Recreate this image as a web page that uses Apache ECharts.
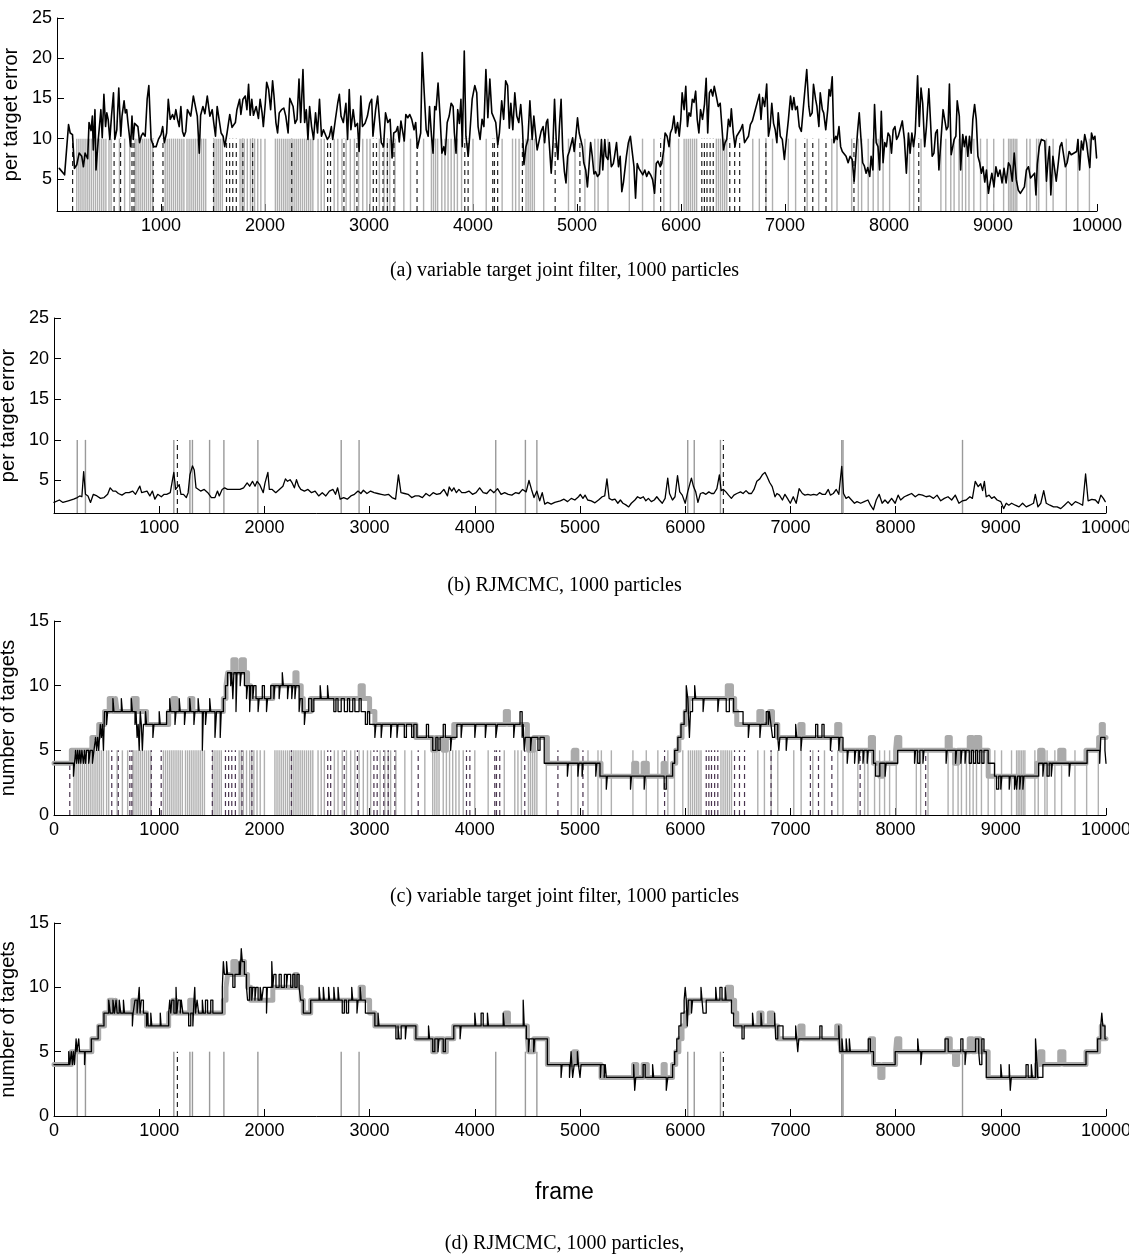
<!DOCTYPE html>
<html><head><meta charset="utf-8">
<script src="https://cdn.jsdelivr.net/npm/echarts@6/dist/echarts.min.js"></script>
<style>html,body{margin:0;padding:0;background:#fff}#c{width:1129px;height:1257px}</style>
</head><body><div id="c"></div>
<script>
// ---------- data ----------
const errTicks = [5, 10, 15, 20, 25];
const countTicks = [0, 5, 10, 15];
const captions = ['(a) variable target joint filter, 1000 particles', '(b) RJMCMC, 1000 particles',
  '(c) variable target joint filter, 1000 particles', '(d) RJMCMC, 1000 particles,'];

// (a) per target error, variable target joint filter  [frame, error]
const errA = [[22,6.3],[73,5.5],[111,11.75],[127,10.7],[149,10.5],[168,6.3],[190,6.75],[213,8.2],[238,7.8],[254,6.5],[270,8.2],[295,7.5],[308,12],[327,11],[340,12.8],[349,8.6],[365,13.6],[375,6.1],[397,9.9],[422,13.6],[435,10.1],[451,15.5],[467,11.5],[479,13.2],[492,12.4],[508,9.9],[524,12.8],[543,15.7],[556,9.9],[575,11.1],[594,16.3],[613,10.3],[625,12.8],[645,14.7],[657,13.2],[670,13.6],[683,11.9],[708,9],[721,12.8],[733,9.9],[746,11.9],[778,11.5],[794,9.5],[810,10.3],[826,10.7],[848,10.3],[867,14.9],[883,16.6],[905,9.9],[930,9],[953,9],[975,9.9],[1000,10.5],[1016,11.5],[1032,9.5],[1054,10.7],[1070,14.9],[1089,12.4],[1111,13],[1127,12.4],[1143,13.6],[1159,12.4],[1175,11.5],[1191,14],[1207,10.9],[1222,10.3],[1238,10.9],[1254,13.6],[1270,13.6],[1286,12.8],[1311,15.3],[1330,15.3],[1349,12.8],[1368,8.2],[1381,12.9],[1403,14],[1422,13.1],[1445,15.3],[1470,12.8],[1492,13.6],[1508,11.9],[1524,10.3],[1540,14],[1559,14],[1578,10.7],[1597,10.3],[1613,9],[1635,10.7],[1661,13],[1683,11.4],[1699,11.6],[1715,12],[1730,13.6],[1756,14.9],[1768,13],[1788,14.9],[1810,15.3],[1826,13.6],[1842,16.75],[1857,12.9],[1873,14.9],[1889,12.9],[1915,14],[1937,12.5],[1953,14.9],[1972,13.2],[1984,11.5],[2003,14.4],[2016,17],[2035,16.1],[2054,13.6],[2073,17.2],[2086,15.4],[2105,12],[2121,10.7],[2137,13.2],[2159,13.6],[2181,13.8],[2200,12.8],[2222,10.7],[2238,15],[2257,14.9],[2270,14],[2289,11.9],[2308,12.4],[2327,17.4],[2343,12],[2365,18.6],[2381,12],[2397,13.6],[2413,9.9],[2429,14],[2448,11.5],[2467,9.9],[2486,13.2],[2505,10.7],[2524,14.9],[2543,10.3],[2562,11.1],[2581,11.1],[2600,9.9],[2619,10.3],[2638,11.5],[2651,9.9],[2677,12.4],[2699,14.4],[2715,15.5],[2731,12.8],[2753,12],[2778,14.4],[2794,9.9],[2810,16.1],[2826,11.1],[2848,13.6],[2867,11.5],[2889,11.9],[2905,8.4],[2921,15.3],[2937,11.5],[2962,11.9],[2985,12.8],[3007,14.4],[3026,14.9],[3038,10.3],[3064,13.6],[3083,15.3],[3118,9.5],[3140,9],[3159,13.2],[3181,12],[3203,12.4],[3222,7.6],[3238,10.7],[3260,10.9],[3276,11.5],[3291,9.6],[3307,12.2],[3323,12],[3339,9.7],[3354,13],[3373,12.6],[3392,13],[3411,12.4],[3433,11.1],[3449,12],[3465,8.8],[3481,9],[3497,10.7],[3512,20.7],[3531,15.7],[3550,11.1],[3569,10.3],[3582,14],[3601,10.3],[3616,8.2],[3632,14],[3645,13.6],[3664,16.9],[3683,12.8],[3701,8.2],[3720,9],[3733,8],[3752,12],[3771,12.8],[3790,14.4],[3809,14],[3821,10.7],[3837,8.2],[3853,13.6],[3869,11.9],[3884,14.9],[3897,9],[3916,20.9],[3932,10.3],[3954,7.8],[3970,10.7],[3992,14.9],[4017,16.6],[4036,15.7],[4049,11.5],[4068,9.9],[4087,12.4],[4105,11.5],[4124,18.6],[4143,12.6],[4162,17.4],[4181,13.2],[4200,13.2],[4219,12],[4238,9.25],[4254,10.7],[4276,14.7],[4295,12.4],[4314,17.2],[4333,16.6],[4349,11.3],[4364,14.4],[4383,11.1],[4402,15.7],[4421,12.8],[4440,12],[4459,14.25],[4475,11.5],[4490,6.75],[4509,9],[4528,9.9],[4547,14.7],[4569,9.9],[4585,12.8],[4601,13],[4617,8.6],[4636,8.8],[4655,10.9],[4674,11.5],[4689,9.5],[4705,12],[4718,12.4],[4737,12.6],[4752,5.7],[4768,9],[4784,14.9],[4800,9.9],[4816,7.4],[4831,11.5],[4847,14.9],[4863,8.5],[4879,5.9],[4894,4.5],[4910,7.8],[4926,8.4],[4942,8.25],[4958,10.1],[4973,8.4],[4989,10.3],[5005,12.6],[5021,10.7],[5036,10.9],[5052,9],[5065,7],[5084,6.1],[5100,4],[5115,6.5],[5131,9.5],[5147,7.8],[5163,5.6],[5178,5.9],[5197,5.3],[5216,5.6],[5235,9.9],[5248,6.1],[5267,9.9],[5279,7.8],[5298,7.4],[5311,9.5],[5330,6.5],[5349,6.9],[5361,7.8],[5380,9.5],[5399,6.5],[5415,7.8],[5431,3.4],[5447,4.6],[5462,4.4],[5475,7.8],[5494,9.5],[5513,10.3],[5532,10.5],[5548,6.5],[5563,2.6],[5579,6.9],[5595,6.3],[5614,6.1],[5633,5.5],[5652,6.1],[5670,5.3],[5689,5.9],[5708,5.5],[5727,4.9],[5746,3.2],[5762,6.9],[5778,7.2],[5800,6.5],[5815,6.9],[5834,8.6],[5847,10.7],[5866,10.3],[5885,9],[5898,10.7],[5916,11.3],[5932,12.8],[5948,10.7],[5967,12],[5983,10.3],[5998,12.4],[6011,15.7],[6030,13.6],[6046,16.5],[6062,11.5],[6077,13.2],[6093,12.8],[6109,14.9],[6125,14.5],[6141,15.9],[6156,12.4],[6172,10.7],[6188,13.6],[6207,12.4],[6226,14.3],[6242,17.5],[6257,10.7],[6273,15.7],[6289,16.1],[6305,15.3],[6320,16.5],[6339,15.3],[6358,14],[6377,14.4],[6393,11.5],[6409,8.6],[6424,9.5],[6440,9.9],[6456,12.4],[6472,11.5],[6484,13.7],[6503,10.7],[6519,9],[6535,10.3],[6554,10.7],[6573,11.1],[6592,11.75],[6611,9.5],[6630,9.9],[6649,10.3],[6667,11.75],[6686,12.2],[6753,15.5],[6769,12.4],[6785,15.1],[6805,14],[6824,16.8],[6841,10.3],[6857,11.5],[6873,14.4],[6890,11.9],[6906,11.1],[6922,9.5],[6935,13.2],[6955,10.3],[6974,9.9],[6994,7.4],[7013,9.9],[7033,12.4],[7053,15.3],[7069,13.6],[7085,15.1],[7101,13.6],[7118,14],[7137,11.5],[7157,10.9],[7176,13.8],[7209,18.6],[7229,14],[7242,12.8],[7261,13.2],[7274,16.75],[7294,14.9],[7307,14],[7326,11.5],[7339,15.7],[7359,13.6],[7372,13.2],[7392,11.1],[7411,13.6],[7424,16.1],[7437,15.3],[7454,17.7],[7470,9.5],[7489,10.3],[7502,9.9],[7519,11.5],[7535,9],[7551,8.4],[7568,8.2],[7587,7.8],[7607,7],[7626,7.8],[7646,7.4],[7665,4.7],[7685,8.6],[7698,10.9],[7714,13.2],[7731,9.9],[7747,7],[7763,6.6],[7780,5.7],[7796,6.4],[7815,5.3],[7828,7.8],[7845,6.1],[7861,14.25],[7877,9.5],[7894,9],[7910,6.1],[7926,13.4],[7943,7],[7959,9.5],[7975,9],[7991,10.7],[8008,10.3],[8024,8.2],[8040,11.1],[8057,11.5],[8073,9.9],[8089,10.3],[8106,11.1],[8128,12.2],[8148,9.9],[8167,5.7],[8187,10.7],[8203,8.2],[8220,10.7],[8236,9],[8252,10.7],[8275,17.8],[8291,11.5],[8308,16.3],[8324,14.4],[8343,9],[8360,11.5],[8383,16.2],[8399,12.2],[8415,7.8],[8432,8.2],[8448,10.7],[8464,11.1],[8480,6.1],[8500,9.9],[8520,13.6],[8536,13.8],[8552,11.1],[8568,11.5],[8581,16.8],[8598,8],[8611,8.2],[8627,9.9],[8643,10.3],[8656,14.7],[8676,12.8],[8689,6.1],[8709,10.5],[8725,9],[8741,10.3],[8758,7.8],[8774,10.3],[8790,8.2],[8806,12.4],[8823,14.25],[8839,12.4],[8855,7.8],[8872,7],[8888,5.7],[8904,6.5],[8921,4.6],[8937,6.1],[8956,3.2],[8969,4.25],[8989,5.7],[9009,4],[9028,6.5],[9048,5.3],[9067,6.1],[9087,4.5],[9106,6.3],[9126,4.5],[9149,7],[9165,6.6],[9185,4.7],[9204,8.2],[9224,4.9],[9243,3.6],[9263,3.2],[9282,3.4],[9302,4],[9321,6.1],[9341,6.5],[9361,5.1],[9380,5.1],[9400,5.7],[9413,3],[9426,6.8],[9445,9],[9465,9.9],[9484,10.1],[9498,9.7],[9514,4.7],[9530,7.4],[9543,9],[9556,3],[9576,7.8],[9589,8],[9608,4.7],[9628,7],[9644,9],[9661,9.5],[9680,9.7],[9696,6.5],[9713,7],[9732,8.4],[9752,8],[9771,7.8],[9784,8.25],[9804,8.4],[9817,9.9],[9833,6.1],[9850,9.7],[9866,8.6],[9882,10.5],[9899,9.5],[9915,7.8],[9931,6.4],[9947,10.7],[9964,9.9],[9980,10.3],[9996,7.6]];

// (b) per target error, RJMCMC  [frame, error]
const errB = [[0,2.3],[51,2.6],[85,2.3],[136,2.5],[187,2.7],[221,2.9],[245,3.1],[265,3.0],[282,6.1],[299,3.3],[323,3.1],[347,2.3],[374,3.3],[408,3.1],[442,2.8],[476,2.9],[510,3.3],[534,4.1],[561,3.7],[585,3.7],[612,3.4],[646,3.2],[680,3.5],[714,3.5],[748,3.7],[775,3.3],[799,3.9],[816,4.3],[833,3.5],[850,3.3],[884,3.7],[911,3.1],[935,3.7],[959,2.7],[986,3.3],[1020,3.0],[1047,3.3],[1071,3.3],[1105,3.5],[1139,6.0],[1156,3.9],[1173,3.7],[1190,4.5],[1207,3.3],[1231,3.3],[1258,2.9],[1275,3.5],[1292,5.7],[1316,6.8],[1333,6.3],[1350,4.1],[1367,3.9],[1394,3.7],[1428,3.9],[1462,3.5],[1496,2.9],[1530,2.9],[1554,3.7],[1571,3.1],[1598,3.9],[1622,4.1],[1649,3.9],[1666,3.7],[1700,3.9],[1734,3.9],[1768,3.9],[1802,4.1],[1836,4.7],[1860,4.3],[1887,4.9],[1911,4.3],[1931,4.9],[1955,4.5],[1972,4.5],[1989,3.5],[2006,4.7],[2033,6.0],[2047,3.9],[2074,3.9],[2108,3.5],[2142,3.9],[2176,4.3],[2200,5.2],[2220,4.9],[2244,5.1],[2264,4.7],[2285,4.1],[2305,5.1],[2326,4.3],[2346,3.9],[2380,3.7],[2414,3.9],[2448,3.5],[2482,3.7],[2516,3.1],[2550,3.5],[2584,3.1],[2618,3.7],[2652,3.9],[2676,3.3],[2696,4.1],[2720,2.7],[2754,2.9],[2788,2.7],[2822,3.1],[2856,3.3],[2890,3.7],[2917,3.4],[2941,3.8],[2975,3.4],[3009,3.7],[3043,3.5],[3077,3.4],[3111,3.3],[3145,3.2],[3179,3.3],[3213,2.9],[3247,2.7],[3274,5.7],[3298,3.5],[3332,3.4],[3366,3.3],[3400,2.9],[3434,3.1],[3468,3.1],[3502,2.9],[3536,3.4],[3570,3.1],[3604,3.5],[3638,3.3],[3672,3.4],[3706,3.9],[3740,3.1],[3757,4.2],[3781,3.7],[3801,4.1],[3825,3.5],[3849,3.9],[3876,3.5],[3910,3.5],[3944,3.7],[3978,3.3],[4012,3.5],[4046,4.1],[4080,3.5],[4114,3.4],[4148,3.9],[4182,3.5],[4216,4.0],[4250,3.3],[4284,3.5],[4318,3.3],[4352,3.2],[4386,3.5],[4420,3.4],[4454,3.9],[4488,3.6],[4515,5.0],[4539,3.9],[4563,2.9],[4590,3.7],[4617,2.5],[4641,3.5],[4665,2.1],[4692,2.3],[4726,2.1],[4760,2.3],[4813,2.5],[4848,2.7],[4882,2.4],[4917,2.8],[4951,2.6],[4986,3.0],[5003,3.3],[5028,2.8],[5048,3.2],[5073,2.6],[5107,2.5],[5142,2.25],[5176,2.6],[5211,3.0],[5235,3.1],[5256,5.2],[5277,2.8],[5304,2.6],[5332,2.7],[5360,2.2],[5384,2.6],[5408,2.2],[5436,2.0],[5463,1.75],[5488,2.2],[5522,2.6],[5547,3.0],[5574,2.8],[5602,3.0],[5626,2.5],[5650,2.8],[5678,2.4],[5706,2.6],[5730,3.0],[5754,2.6],[5782,2.2],[5809,2.8],[5834,5.3],[5851,3.4],[5879,2.6],[5903,3.0],[5927,5.6],[5948,3.6],[5972,3.2],[6000,2.2],[6024,3.6],[6059,5.3],[6079,4.25],[6100,3.6],[6121,2.3],[6145,3.4],[6169,3.5],[6197,3.3],[6225,3.6],[6249,3.4],[6273,3.4],[6301,4.0],[6325,5.7],[6342,3.75],[6363,3.9],[6387,3.6],[6412,3.2],[6439,2.8],[6463,3.2],[6491,3.4],[6526,3.6],[6550,3.4],[6578,3.75],[6605,3.4],[6630,3.4],[6654,3.9],[6681,4.9],[6709,5.2],[6733,5.7],[6758,6.0],[6778,5.5],[6803,4.75],[6827,4.25],[6854,3.0],[6872,3.4],[6896,3.2],[6924,2.6],[6948,3.3],[6972,2.8],[6999,2.2],[7027,3.0],[7055,2.2],[7083,4.0],[7114,3.4],[7138,3.2],[7166,3.3],[7193,3.2],[7221,3.3],[7252,3.2],[7277,3.5],[7304,3.3],[7332,3.3],[7360,3.9],[7380,3.2],[7408,3.4],[7436,3.9],[7460,3.3],[7488,6.75],[7505,3.4],[7529,2.8],[7553,3.0],[7581,2.6],[7609,2.2],[7633,2.4],[7668,2.2],[7702,2.4],[7737,2.6],[7761,1.96],[7789,1.4],[7816,2.6],[7844,3.3],[7872,2.2],[7899,2.6],[7927,2.2],[7962,2.8],[7996,2.2],[8024,3.2],[8048,2.6],[8083,3.0],[8117,3.2],[8152,3.4],[8187,3.0],[8221,3.3],[8256,3.2],[8290,3.0],[8325,3.1],[8360,2.8],[8394,3.2],[8429,2.5],[8463,2.8],[8498,3.0],[8533,2.6],[8567,3.2],[8602,2.2],[8636,2.5],[8671,2.6],[8706,3.0],[8730,2.8],[8757,4.9],[8785,4.25],[8809,4.6],[8827,3.75],[8844,4.9],[8861,3.0],[8889,3.2],[8913,2.8],[8937,3.0],[8965,2.6],[9000,2.4],[9027,1.54],[9052,2.2],[9076,1.96],[9103,2.2],[9138,1.96],[9173,1.75],[9207,2.2],[9242,1.75],[9276,1.96],[9311,2.2],[9328,3.3],[9353,1.75],[9380,2.2],[9408,3.75],[9432,2.2],[9467,1.96],[9501,1.75],[9536,1.75],[9570,1.54],[9605,1.96],[9640,2.4],[9674,1.96],[9709,2.4],[9744,2.2],[9778,1.96],[9806,5.8],[9830,2.5],[9865,2.67],[9899,2.6],[9927,2.2],[9951,3.2],[9975,2.8],[9993,2.4]];

// true number of targets (step change points) [frame, count]
const trueCount = [[0,4],[165,5],[360,6],[425,7],[480,8],[525,9],[560,8],[585,9],[600,8],[750,9],[790,8],[880,7],[1090,8],[1130,9],[1160,8],[1290,9],[1320,8],[1610,9],[1635,10],[1650,11],[1700,12],[1730,11],[1780,12],[1810,11],[1840,10],[1870,9],[2080,10],[2290,11],[2310,10],[2350,9],[2370,8],[2440,9],[2910,10],[2940,9],[3000,8],[3050,7],[3440,6],[3600,5],[3630,6],[3700,5],[3730,6],[3800,7],[4290,8],[4320,7],[4500,6],[4510,5],[4560,6],[4690,4],[4940,5],[4970,4],[5200,3],[5510,4],[5540,3],[5600,4],[5640,3],[5790,4],[5810,3],[5880,4],[5910,5],[5940,6],[5970,7],[6000,8],[6030,9],[6400,10],[6440,9],[6470,8],[6490,7],[6700,8],[6730,7],[6800,8],[6830,7],[6880,6],[7090,7],[7120,6],[7440,7],[7470,6],[7480,5],[7760,6],[7790,4],[7850,3],[7880,4],[8000,5],[8010,6],[8040,5],[8490,6],[8520,5],[8560,4],[8590,5],[8700,6],[8730,5],[8760,6],[8800,5],[8880,3],[9340,4],[9370,5],[9400,4],[9560,5],[9600,4],[9810,5],[9930,6],[9955,7],[9975,6],[10000,6]];

// (c) estimated number of targets, variable target joint filter
const estC = [[0,4],[185,3],[195,4],[205,5],[215,4],[225,5],[235,4],[245,5],[255,4],[265,5],[280,4],[290,5],[300,4],[310,5],[330,4],[345,5],[365,4],[380,5],[395,6],[405,5],[415,6],[425,5],[440,7],[450,6],[460,7],[470,5],[480,8],[500,7],[510,8],[560,9],[570,8],[640,9],[650,8],[735,9],[745,8],[770,7],[780,8],[790,6],[800,7],[810,5],[820,8],[830,7],[840,5],[850,7],[870,8],[880,7],[940,6],[950,7],[1000,8],[1010,7],[1070,8],[1100,9],[1110,8],[1150,7],[1160,8],[1190,9],[1200,8],[1240,7],[1250,8],[1290,9],[1300,8],[1330,7],[1340,8],[1370,9],[1380,8],[1410,5],[1420,8],[1440,7],[1450,8],[1480,9],[1490,8],[1530,6],[1545,8],[1580,6],[1590,8],[1610,9],[1630,10],[1650,11],[1680,10],[1690,11],[1700,9],[1710,11],[1730,8],[1740,11],[1770,10],[1780,11],[1810,10],[1830,9],[1840,10],[1860,8],[1870,10],[1890,9],[1900,10],[1920,9],[1940,8],[1950,9],[1980,10],[2000,9],[2020,8],[2030,9],[2060,10],[2090,9],[2100,10],[2140,9],[2150,10],[2170,11],[2180,10],[2220,9],[2230,10],[2260,9],[2270,10],[2290,9],[2300,10],[2330,8],[2340,9],[2360,8],[2380,7],[2390,8],[2420,9],[2450,8],[2470,9],[2530,10],[2540,9],[2600,10],[2610,9],[2660,8],[2680,9],[2700,8],[2730,9],[2760,8],[2790,9],[2810,8],[2840,9],[2860,8],[2900,9],[2920,8],[2960,7],[2980,8],[3000,7],[3050,6],[3060,7],[3110,6],[3120,7],[3200,6],[3210,7],[3260,6],[3270,7],[3330,6],[3350,7],[3400,6],[3420,7],[3450,6],[3540,7],[3560,6],[3600,5],[3630,6],[3650,5],[3670,6],[3700,7],[3720,6],[3770,5],[3780,6],[3830,7],[3870,6],[3880,7],[4000,6],[4010,7],[4100,6],[4110,7],[4200,6],[4215,7],[4370,6],[4380,7],[4430,8],[4450,6],[4460,7],[4470,5],[4480,6],[4530,5],[4540,6],[4600,5],[4620,6],[4660,4],[4880,3],[4890,4],[4980,3],[4990,4],[5020,3],[5030,4],[5150,3],[5160,4],[5190,3],[5250,2],[5260,3],[5480,2],[5490,3],[5610,2],[5620,3],[5800,2],[5820,3],[5880,4],[5900,5],[5930,6],[5960,7],[5990,8],[6010,10],[6025,9],[6040,6],[6050,8],[6070,9],[6090,10],[6100,9],[6170,8],[6180,9],[6310,8],[6320,9],[6390,8],[6420,9],[6460,8],[6550,7],[6600,6],[6610,7],[6710,6],[6720,7],[6770,8],[6790,7],[6800,8],[6815,7],[6830,6],[6850,7],[6880,6],[6890,5],[6900,6],[6960,5],[6970,6],[7050,7],[7060,6],[7100,5],[7110,6],[7240,7],[7260,6],[7300,7],[7320,6],[7380,5],[7390,6],[7460,5],[7470,6],[7500,5],[7540,4],[7550,5],[7610,4],[7620,5],[7650,4],[7660,5],[7690,4],[7700,5],[7730,4],[7740,5],[7790,4],[7810,3],[7850,4],[7900,3],[7910,4],[8020,5],[8180,4],[8190,5],[8210,4],[8230,5],[8260,4],[8270,5],[8480,4],[8490,5],[8570,4],[8580,5],[8620,4],[8630,5],[8660,4],[8670,5],[8700,4],[8720,5],[8740,4],[8760,5],[8780,4],[8800,5],[8820,4],[8840,5],[8880,4],[8940,3],[8960,2],[8980,3],[9000,2],[9010,3],[9080,2],[9090,3],[9130,2],[9140,3],[9150,2],[9160,3],[9180,2],[9190,3],[9210,2],[9220,3],[9360,4],[9400,3],[9410,4],[9440,3],[9460,4],[9480,3],[9490,4],[9650,3],[9660,4],[9820,5],[9940,4],[9950,6],[9990,5],[10000,4]];

// (d) estimated number of targets, RJMCMC
const estD = [[0,4],[140,5],[150,4],[165,5],[175,4],[185,5],[195,4],[210,6],[218,5],[235,6],[243,5],[290,4],[297,5],[355,6],[420,7],[475,8],[520,9],[535,8],[560,9],[575,8],[590,9],[600,8],[620,9],[635,8],[660,9],[670,8],[745,7],[752,8],[770,9],[790,8],[800,9],[810,10],[818,8],[830,9],[850,8],[880,7],[890,8],[895,7],[920,8],[930,7],[1010,8],[1018,7],[1090,8],[1100,9],[1110,8],[1120,9],[1140,8],[1160,10],[1168,8],[1180,9],[1200,8],[1210,9],[1225,8],[1280,7],[1300,8],[1320,7],[1330,9],[1338,10],[1345,8],[1360,9],[1375,8],[1410,9],[1420,8],[1440,9],[1460,8],[1490,9],[1510,8],[1600,10],[1610,12],[1620,11],[1640,12],[1650,11],[1700,10],[1720,11],[1760,12],[1770,11],[1780,13],[1790,12],[1810,11],[1830,10],[1840,9],[1860,10],[1880,9],[1890,10],[1910,9],[1920,10],[1940,9],[1960,10],[1975,9],[1990,10],[2020,8],[2028,10],[2070,12],[2080,10],[2090,11],[2110,10],[2140,11],[2160,10],[2190,11],[2210,10],[2220,11],[2250,10],[2270,11],[2290,10],[2310,11],[2330,10],[2345,9],[2370,8],[2440,9],[2520,10],[2530,9],[2560,10],[2570,9],[2610,10],[2620,9],[2660,10],[2670,9],[2700,10],[2710,9],[2740,8],[2760,9],[2780,8],[2800,9],[2830,10],[2840,9],[2880,8],[2890,9],[2910,10],[2920,9],[2960,8],[3050,7],[3080,8],[3090,7],[3250,6],[3270,7],[3280,6],[3300,7],[3340,6],[3350,7],[3440,6],[3560,7],[3570,6],[3600,5],[3620,6],[3650,5],[3660,6],[3700,5],[3720,6],[3800,7],[3860,6],[3870,7],[4000,8],[4010,7],[4060,8],[4080,7],[4120,8],[4130,7],[4270,8],[4280,7],[4460,9],[4470,7],[4490,6],[4510,5],[4520,6],[4560,5],[4570,6],[4690,4],[4820,3],[4830,4],[4900,3],[4915,5],[4930,3],[4945,4],[4975,5],[4985,4],[5000,3],[5010,4],[5194,3],[5200,4],[5230,3],[5240,4],[5250,3],[5510,4],[5520,2],[5530,3],[5600,4],[5620,3],[5690,4],[5700,3],[5820,2],[5835,3],[5880,4],[5900,5],[5920,6],[5940,7],[5960,8],[5990,9],[6000,10],[6010,9],[6020,7],[6030,9],[6060,8],[6070,9],[6150,10],[6160,9],[6170,8],[6200,9],[6290,10],[6300,9],[6330,10],[6350,9],[6380,10],[6390,9],[6440,8],[6460,7],[6540,6],[6560,7],[6640,8],[6650,7],[6720,8],[6730,7],[6850,8],[6860,6],[6880,7],[6930,6],[7050,7],[7060,6],[7070,5],[7080,6],[7280,7],[7300,6],[7460,7],[7470,5],[7490,6],[7500,5],[7530,6],[7540,5],[7560,6],[7570,5],[7740,6],[7760,5],[7790,4],[7996,5],[8210,6],[8220,5],[8240,4],[8250,5],[8470,6],[8500,5],[8620,6],[8640,5],[8660,4],[8670,5],[8760,6],[8790,5],[8800,4],[8820,6],[8840,5],[8862,3],[9000,4],[9010,3],[9080,4],[9090,2],[9100,3],[9240,4],[9260,3],[9290,4],[9300,3],[9330,6],[9345,4],[9350,3],[9400,4],[9810,5],[9920,6],[9950,7],[9960,8],[9970,7],[9990,6],[10000,6]];

// event frames (birth/death proposals), solid grey and dashed
const eventsJointSolid = [190,210,230,250,270,290,310,330,350,370,390,410,430,450,470,500,520,600,650,700,750,760,780,800,820,840,860,880,900,920,1040,1060,1080,1100,1120,1140,1160,1180,1200,1220,1250,1270,1290,1310,1330,1350,1370,1390,1410,1430,1510,1530,1550,1570,1590,1760,1780,1800,1830,1860,1880,1900,1930,1960,2000,2100,2120,2140,2160,2180,2200,2220,2240,2260,2280,2300,2320,2340,2360,2380,2400,2420,2440,2460,2510,2540,2570,2665,2700,2740,2780,2820,2860,2900,2940,2980,3010,3100,3145,3177,3200,3250,3335,3399,3525,3600,3620,3640,3660,3700,3730,3760,3790,3820,3850,3890,4000,4127,4280,4380,4410,4443,4510,4530,4550,4570,4590,4680,4918,4981,5076,5171,5203,5298,5503,5630,5740,5835,5898,5977,6030,6050,6070,6090,6110,6130,6150,6340,6360,6380,6400,6420,6440,6690,6753,6817,6880,7032,7102,7213,7324,7450,7500,7641,7705,7737,7800,7848,7895,7943,8006,8197,8238,8308,8499,8546,8594,8626,8673,8705,8737,8769,8816,8880,8943,9007,9102,9150,9165,9181,9197,9213,9229,9324,9356,9419,9440,9514,9578,9705,9816,9927];
const eventsJointDashed = [150,549,611,721,740,925,1019,1505,1630,1660,1690,1724,1787,1881,2257,2602,2630,2759,2884,3041,3072,3135,3177,3240,3462,3921,3953,4190,4206,4237,4475,4790,5028,5804,6200,6225,6250,6280,6310,6469,6516,6564,6816,7190,7267,7394,7663,8286];
const eventsRjSolid = [221,299,1139,1292,1316,1479,1615,1938,2730,2900,4199,4481,4590,6024,6086,6335,7488,7500,8636];
const eventsRjDashed = [1173,6363];

// ---------- chart ----------
const chart = echarts.init(document.getElementById('c'), null, {renderer: 'canvas'});
const SANS = 'Liberation Sans, Arial, Helvetica, sans-serif';
const SERIF = 'Liberation Serif, Times New Roman, serif';

function xAxisCfg(gi, showZero) {
  return {gridIndex: gi, type: 'value', min: 0, max: 10000, interval: 1000,
    axisLine: {lineStyle: {color: '#000', width: 1}},
    axisTick: {inside: true, length: 7, lineStyle: {color: '#000'}},
    axisLabel: {color: '#000', fontFamily: SANS, fontSize: 18, margin: 6, showMinLabel: showZero,
      formatter: v => String(v)},
    splitLine: {show: false}};
}
function yAxisCfg(gi, min, max, ticks, name) {
  return {gridIndex: gi, type: 'value', min: min, max: max,
    name: name, nameLocation: 'middle', nameGap: 25, nameRotate: 90,
    nameTextStyle: {color: '#000', fontFamily: SANS, fontSize: 20},
    axisLine: {show: true, lineStyle: {color: '#000', width: 1}},
    axisTick: {show: true, inside: true, length: 7, customValues: ticks, lineStyle: {color: '#000'}},
    axisLabel: {color: '#000', fontFamily: SANS, fontSize: 18, margin: 5, customValues: ticks},
    splitLine: {show: false}};
}
function eventSeries(gi, frames, bottom, top, color, width, dash, z) {
  return {type: 'custom', xAxisIndex: gi, yAxisIndex: gi, z: z, silent: true,
    data: frames.map(f => [f, bottom, top]),
    encode: {x: 0, y: [1, 2]},
    renderItem: function (params, api) {
      const p0 = api.coord([api.value(0), api.value(1)]);
      const p1 = api.coord([api.value(0), api.value(2)]);
      return {type: 'line', shape: {x1: p0[0], y1: p0[1], x2: p1[0], y2: p1[1]},
        style: {stroke: color, lineWidth: width, lineDash: dash}};
    }};
}
function lineSeries(gi, data, color, width, step, z) {
  return {type: 'line', xAxisIndex: gi, yAxisIndex: gi, data: data, step: step || false,
    showSymbol: false, symbol: 'none', z: z, silent: true,
    lineStyle: {color: color, width: width, cap: 'round', join: 'round'}};
}

const capTop = [256, 571, 882, 1229];
const gridBase = {containLabel: false, outerBoundsMode: 'none'};
const option = {
  backgroundColor: '#fff',
  animation: false,
  title: captions.map((t, i) => ({text: t, left: 'center', top: capTop[i],
      textStyle: {fontFamily: SERIF, fontSize: 20, fontWeight: 'normal', color: '#000'}}))
    .concat([{text: 'frame', left: 'center', top: 1176,
      textStyle: {fontFamily: SANS, fontSize: 23, fontWeight: 'normal', color: '#000'}}]),
  grid: [
    Object.assign({left: 57, top: 18, width: 1040, height: 193}, gridBase),
    Object.assign({left: 54, top: 318, width: 1052, height: 195}, gridBase),
    Object.assign({left: 54, top: 621, width: 1052, height: 194}, gridBase),
    Object.assign({left: 54, top: 923, width: 1052, height: 193}, gridBase)
  ],
  xAxis: [xAxisCfg(0, false), xAxisCfg(1, false), xAxisCfg(2, true), xAxisCfg(3, true)],
  yAxis: [yAxisCfg(0, 1, 25, errTicks, 'per target error'),
          yAxisCfg(1, 1, 25, errTicks, 'per target error'),
          yAxisCfg(2, 0, 15, countTicks, 'number of targets'),
          yAxisCfg(3, 0, 15, countTicks, 'number of targets')],
  series: [
    eventSeries(0, eventsJointSolid, 1, 10, '#b0b0b0', 1.4, null, 1),
    eventSeries(0, eventsJointDashed, 1, 10, '#222', 1.2, [5, 4], 2),
    lineSeries(0, errA, '#000', 1.6, false, 5),
    eventSeries(1, eventsRjSolid, 1, 10, '#9a9a9a', 1.4, null, 1),
    eventSeries(1, eventsRjDashed, 1, 10, '#222', 1.2, [5, 4], 2),
    lineSeries(1, errB, '#000', 1.3, false, 5),
    eventSeries(2, eventsJointSolid, 0, 5, '#b0b0b0', 1.4, null, 1),
    eventSeries(2, eventsJointDashed, 0, 5, '#4a3550', 1.2, [5, 4], 2),
    lineSeries(2, trueCount, '#aaaaaa', 5, 'end', 3),
    lineSeries(2, estC, '#000', 1.3, 'end', 5),
    eventSeries(3, eventsRjSolid, 0, 5, '#9a9a9a', 1.4, null, 1),
    eventSeries(3, eventsRjDashed, 0, 5, '#222', 1.2, [5, 4], 2),
    lineSeries(3, trueCount, '#aaaaaa', 5, 'end', 3),
    lineSeries(3, estD, '#000', 1.3, 'end', 5)
  ]
};
chart.setOption(option);
</script></body></html>
